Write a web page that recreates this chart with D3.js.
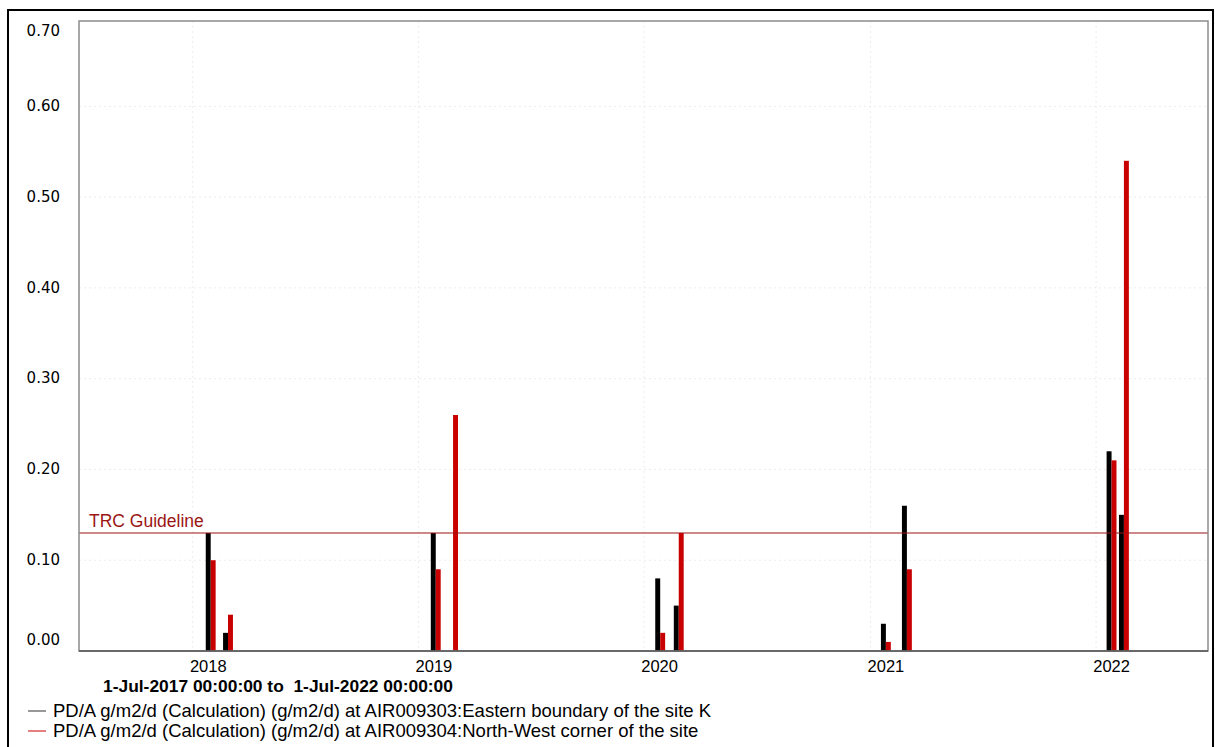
<!DOCTYPE html>
<html>
<head>
<meta charset="utf-8">
<title>PD/A deposition, AIR009303 / AIR009304</title>
<script src="https://cdn.jsdelivr.net/npm/d3@7"></script>
<style>
  body { margin: 0; background: #fff; }
  svg { display: block; }
</style>
</head>
<body>
<div id="chart"></div>
<script>
// --- Chart data ---
const periodStart = "2017-07-01";
const periodEnd = "2022-07-01";
const sampleDates = ["2018-01-30", "2018-02-27", "2019-01-29", "2019-02-26", "2020-01-27",
                     "2020-02-26", "2021-01-26", "2021-03-01", "2022-01-26", "2022-02-15"];
const easternValues = [0.13, 0.02, 0.13, null, 0.08, 0.05, 0.03, 0.16, 0.22, 0.15];
const northWestValues = [0.10, 0.04, 0.09, 0.26, 0.02, 0.13, 0.01, 0.09, 0.21, 0.54];
const guidelineValue = 0.13;
const yTickValues = [0, 0.1, 0.2, 0.3, 0.4, 0.5, 0.6, 0.7];
const yearTicks = [2018, 2019, 2020, 2021, 2022];
const seriesLabels = [
  "PD/A g/m2/d (Calculation) (g/m2/d) at AIR009303:Eastern boundary of the site K",
  "PD/A g/m2/d (Calculation) (g/m2/d) at AIR009304:North-West corner of the site"
];
const periodLabel = "1-Jul-2017 00:00:00 to\u00a0 1-Jul-2022 00:00:00";

document.addEventListener("DOMContentLoaded", function() {

  const width = 1215, height = 747;
  const plot = { left: 79, top: 21, right: 1208, bottom: 651 };
  const colors = { eastern: "#000000", northWest: "#c80000", guide: "#9b1515" };
  const barDays = 8; // each bar covers about a week either side of the sample date

  const svg = d3.select("#chart").append("svg")
      .attr("width", width)
      .attr("height", height);

  // outer frame (bottom runs off the page in the original)
  svg.append("rect")
      .attr("x", 8).attr("y", 10)
      .attr("width", 1205).attr("height", 760)
      .attr("fill", "none")
      .attr("stroke", "#000")
      .attr("stroke-width", 2);

  const parse = d3.utcParse("%Y-%m-%d");

  const x = d3.scaleUtc()
      .domain([parse(periodStart), parse(periodEnd)])
      .range([plot.left, plot.right]);

  // plot top sits a touch under 0.70
  const y = d3.scaleLinear()
      .domain([0, 0.694])
      .range([plot.bottom, plot.top]);

  const yearDates = yearTicks.map(yr => new Date(Date.UTC(yr, 0, 1)));

  // --- Faint dotted grid ---
  const grid = svg.append("g")
      .attr("stroke", "#ececec")
      .attr("stroke-width", 1)
      .attr("stroke-dasharray", "2,3");

  grid.selectAll("line.h")
      .data(yTickValues.filter(v => y(v) > plot.top && y(v) < plot.bottom))
      .join("line")
      .attr("class", "h")
      .attr("x1", plot.left).attr("x2", plot.right)
      .attr("y1", d => y(d)).attr("y2", d => y(d));

  grid.selectAll("line.v")
      .data(yearDates)
      .join("line")
      .attr("class", "v")
      .attr("x1", d => x(d)).attr("x2", d => x(d))
      .attr("y1", plot.top).attr("y2", plot.bottom);

  // --- Bars ---
  const rows = sampleDates.map((d, i) => ({
    date: parse(d),
    eastern: easternValues[i],
    northWest: northWestValues[i]
  }));

  svg.append("g")
      .attr("fill", colors.eastern)
      .selectAll("rect")
      .data(rows.filter(r => r.eastern != null))
      .join("rect")
      .attr("x", d => x(d3.utcDay.offset(d.date, -barDays)))
      .attr("width", d => x(d.date) - x(d3.utcDay.offset(d.date, -barDays)))
      .attr("y", d => y(d.eastern))
      .attr("height", d => y(0) - y(d.eastern));

  svg.append("g")
      .attr("fill", colors.northWest)
      .selectAll("rect")
      .data(rows.filter(r => r.northWest != null))
      .join("rect")
      .attr("x", d => x(d.date))
      .attr("width", d => x(d3.utcDay.offset(d.date, barDays)) - x(d.date))
      .attr("y", d => y(d.northWest))
      .attr("height", d => y(0) - y(d.northWest));

  // --- TRC guideline ---
  svg.append("line")
      .attr("x1", plot.left).attr("x2", plot.right)
      .attr("y1", y(guidelineValue)).attr("y2", y(guidelineValue))
      .attr("stroke", colors.guide)
      .attr("stroke-width", 1.2);

  svg.append("text")
      .attr("x", plot.left + 10)
      .attr("y", y(guidelineValue) - 6)
      .attr("fill", colors.guide)
      .style("font", "17.5px 'Liberation Sans', Arial, sans-serif")
      .text("TRC Guideline");

  // --- Plot frame ---
  svg.append("rect")
      .attr("x", plot.left).attr("y", plot.top)
      .attr("width", plot.right - plot.left)
      .attr("height", plot.bottom - plot.top)
      .attr("fill", "none")
      .attr("stroke", "#8c8c8c")
      .attr("stroke-width", 1.5);

  svg.append("line")
      .attr("x1", plot.left).attr("x2", plot.right)
      .attr("y1", plot.bottom).attr("y2", plot.bottom)
      .attr("stroke", "#555")
      .attr("stroke-width", 1.5);

  // --- Axes ---
  const yAxis = svg.append("g")
      .attr("transform", `translate(${plot.left},0)`)
      .call(d3.axisLeft(y)
          .tickValues(yTickValues)
          .tickSize(0)
          .tickPadding(19)
          .tickFormat(d3.format(".2f")));

  // end labels are pulled inside the plot height, like the source chart
  yAxis.selectAll(".tick")
      .attr("transform", d => `translate(0,${Math.max(31, Math.min(640, y(d)))})`);
  yAxis.select(".domain").remove();
  yAxis.selectAll("text")
      .attr("fill", "#000")
      .style("font", "15px 'DejaVu Sans', Verdana, sans-serif");

  const xAxis = svg.append("g")
      .attr("transform", `translate(0,${plot.bottom})`)
      .call(d3.axisBottom(x)
          .tickValues(yearDates)
          .tickSize(0)
          .tickPadding(9)
          .tickFormat(d3.utcFormat("%Y")));
  xAxis.select(".domain").remove();
  xAxis.selectAll("text")
      .attr("dx", 15)
      .attr("fill", "#000")
      .style("font", "16.5px 'Liberation Sans', Arial, sans-serif");

  // --- Period + legend ---
  svg.append("text")
      .attr("x", 103)
      .attr("y", 692)
      .style("font", "bold 17.4px 'Liberation Sans', Arial, sans-serif")
      .text(periodLabel);

  const legend = svg.append("g")
      .selectAll("g")
      .data(seriesLabels)
      .join("g")
      .attr("transform", (d, i) => `translate(0,${711 + i * 20})`);

  legend.append("line")
      .attr("x1", 28).attr("x2", 46)
      .attr("stroke", (d, i) => i === 0 ? "#333" : colors.northWest)
      .attr("stroke-width", 1);

  legend.append("text")
      .attr("x", 53)
      .attr("y", 6)
      .style("font", "18.5px 'Liberation Sans', Arial, sans-serif")
      .text(d => d);

}); // End DOMContentLoaded listener
</script>
</body>
</html>
